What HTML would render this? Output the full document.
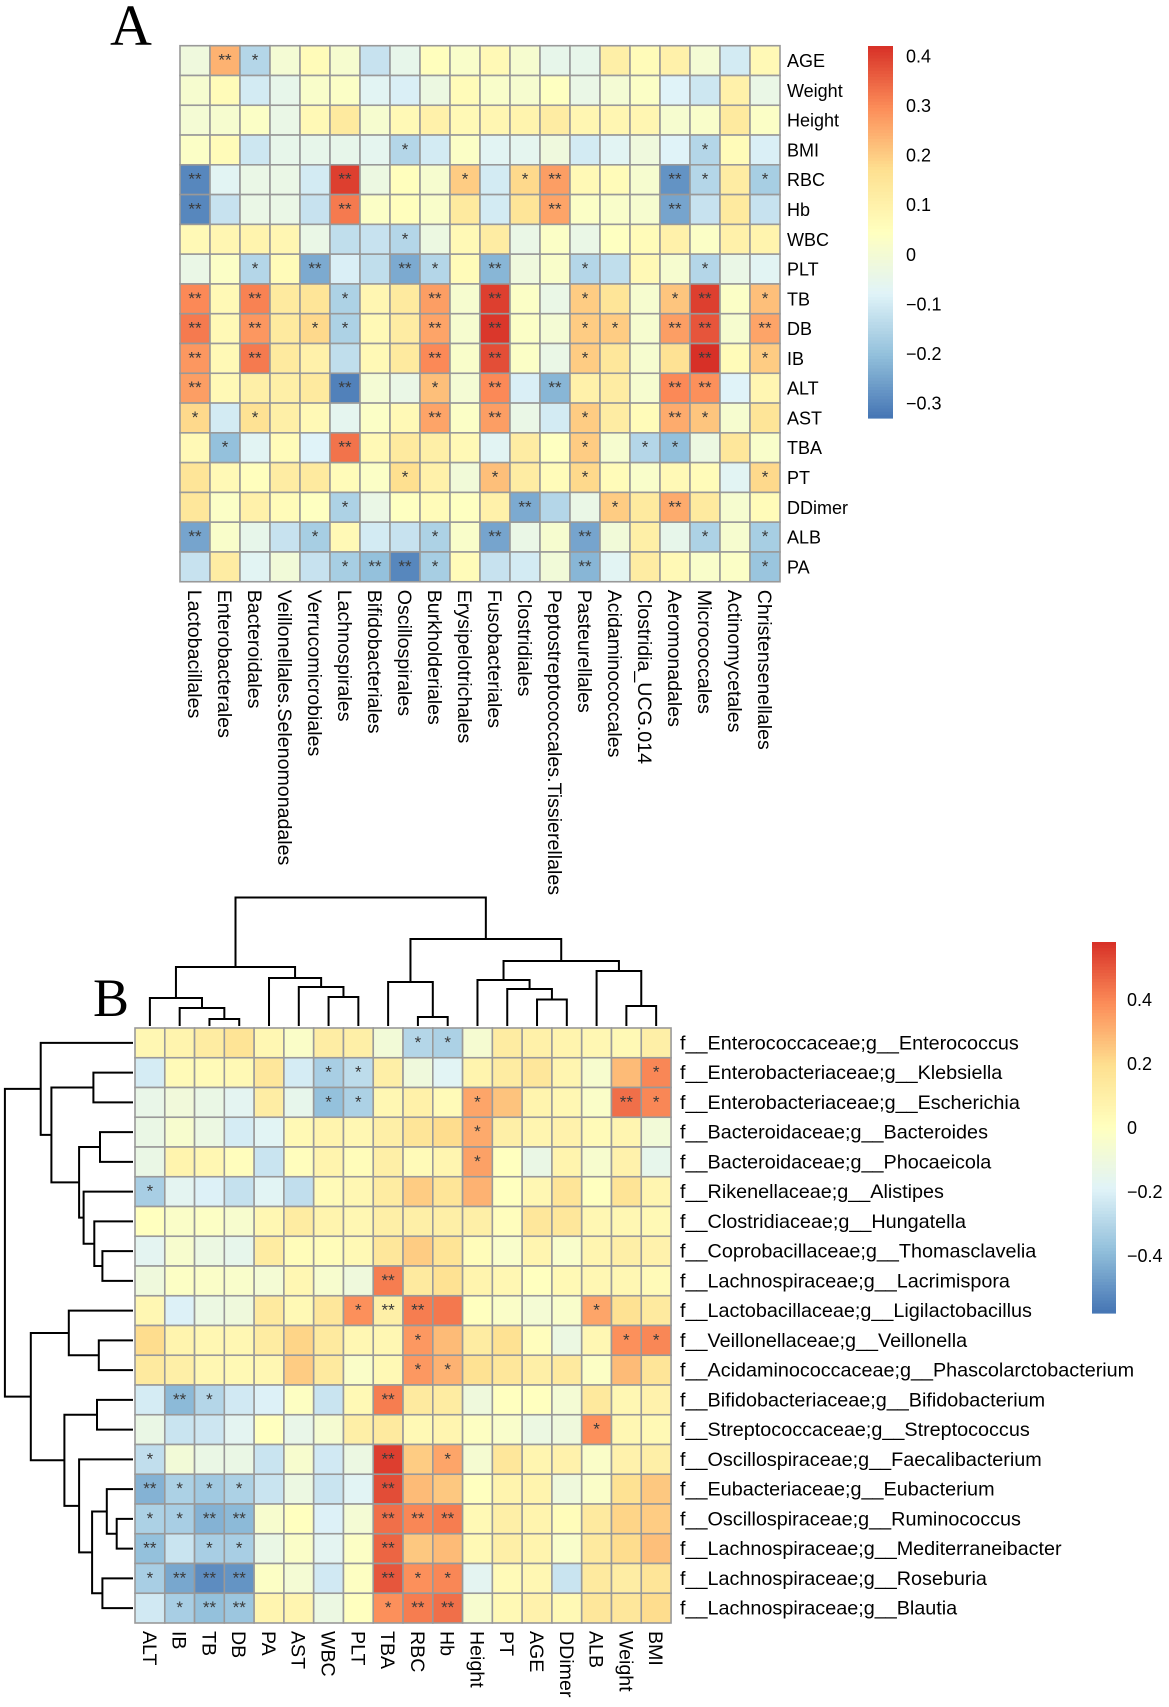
<!DOCTYPE html>
<html><head><meta charset="utf-8"><style>
html,body{margin:0;padding:0;background:#fff;}
svg{display:block;font-family:"Liberation Sans",sans-serif;}
</style></head><body>
<svg id="fig" width="1169" height="1707" viewBox="0 0 1169 1707" xmlns="http://www.w3.org/2000/svg">
<text x="110" y="45" font-family="Liberation Serif,serif" font-size="58">A</text>
<text x="93" y="1016" font-family="Liberation Serif,serif" font-size="54">B</text>
</svg>
<script>
// ---------- Panel A data ----------
const aRows = ["AGE","Weight","Height","BMI","RBC","Hb","WBC","PLT","TB","DB","IB","ALT","AST","TBA","PT","DDimer","ALB","PA"];
const aCols = ["Lactobacillales","Enterobacterales","Bacteroidales","Veillonellales.Selenomonadales","Verrucomicrobiales","Lachnospirales","Bifidobacteriales","Oscillospirales","Burkholderiales","Erysipelotrichales","Fusobacteriales","Clostridiales","Peptostreptococcales.Tissierellales","Pasteurellales","Acidaminococcales","Clostridia_UCG.014","Aeromonadales","Micrococcales","Actinomycetales","Christensenellales"];
const aValues = [
[-0.02,0.24,-0.15,0,0.06,0.01,-0.12,-0.05,0.05,0.02,0.07,0.01,-0.05,-0.05,0.11,0.06,0.1,0,-0.1,0.07],
[0.01,0.06,-0.1,-0.05,0.02,0.03,-0.07,-0.09,-0.03,0.06,0.02,0.01,0.04,-0.04,0,0.03,-0.08,-0.11,0.1,-0.04],
[0,0.01,0.03,-0.04,0.07,0.13,0.01,0.07,0.1,0.07,0.08,0.09,0.12,0.08,0.08,0.08,0.01,0.02,0.13,0.03],
[0.03,0.06,-0.11,-0.05,-0.05,-0.05,-0.06,-0.15,-0.1,0.03,-0.07,-0.06,-0.02,-0.1,-0.07,-0.02,-0.08,-0.15,0.06,-0.09],
[-0.3,-0.07,-0.04,-0.04,-0.1,0.4,-0.03,0.05,0.01,0.2,-0.1,0.18,0.27,0.07,0.06,0.01,-0.28,-0.15,0.12,-0.17],
[-0.3,-0.12,-0.04,-0.04,-0.12,0.32,0.03,0.05,0.02,0.13,-0.1,0.15,0.26,0.03,0.02,0.01,-0.25,-0.12,0.13,-0.12],
[0.07,0.08,0.09,0.08,-0.04,-0.13,-0.12,-0.15,-0.03,0.07,0.12,-0.04,0.03,-0.04,0.04,0.06,0.1,0.03,0.1,0.09],
[-0.04,0.03,-0.15,0.06,-0.24,-0.09,-0.13,-0.24,-0.15,0.06,-0.22,-0.02,0.02,-0.15,-0.13,0.07,0.01,-0.15,-0.04,-0.07],
[0.3,0.07,0.31,0.13,0.15,-0.16,0.08,0.13,0.27,0.01,0.4,0.03,-0.04,0.2,0.15,0.01,0.21,0.4,0.03,0.22],
[0.32,0.07,0.28,0.13,0.18,-0.16,0.07,0.12,0.26,0.01,0.41,0.03,0,0.2,0.2,0.01,0.27,0.37,0.01,0.26],
[0.28,0.07,0.32,0.13,0.1,-0.13,0.07,0.13,0.3,0.02,0.38,0.03,-0.04,0.2,0.14,0.01,0.16,0.42,0.06,0.2],
[0.27,0.07,0.11,0.11,0.13,-0.31,0,-0.04,0.22,0,0.3,-0.09,-0.22,0.1,0.12,0.01,0.3,0.29,-0.08,0.08],
[0.18,-0.1,0.16,0.11,0.07,-0.06,0.03,0.07,0.26,0.03,0.27,-0.04,-0.1,0.2,0.12,0.06,0.25,0.21,0.01,0.15],
[0.07,-0.2,-0.07,0.06,-0.08,0.33,0.07,0.13,0.11,0.07,-0.07,0.12,0.04,0.2,0.01,-0.15,-0.2,-0.03,0.14,0.02],
[0.15,0.07,0.05,0.12,0.13,0.06,0.03,0.17,0.1,-0.01,0.22,0.12,0.06,0.18,0.06,0.02,0.07,0.06,-0.07,0.18],
[0.14,0.03,0.1,0.06,0.04,-0.16,-0.04,0.04,0.06,0.04,0.1,-0.24,-0.15,-0.04,0.2,0.13,0.25,0.13,0.01,0.06],
[-0.25,0.02,-0.05,-0.12,-0.17,0.07,-0.1,-0.12,-0.16,0.02,-0.25,-0.04,0.01,-0.25,-0.01,0.11,-0.05,-0.16,0.01,-0.17],
[-0.12,0.12,-0.07,-0.01,-0.12,-0.17,-0.2,-0.3,-0.17,0.06,-0.12,-0.1,-0.01,-0.22,-0.07,0.12,0.07,0.02,0.03,-0.19]
];
const aSig = ["02100000000000000000","00000000000000000000","00000000000000000000","00000001000000000100",
"20000200010120002101","20000200000020002000","00000001000000000000","00102002102001000100",
"20200100202001001201","20201100202001102202","20200000202001000201","20000200102020002200",
"10100000202001002100","01000200000001011000","00000001001001000001","00000100000200102000",
"20001000102002000101","00000122100002000001"];
const aTicks = [0.4,0.3,0.2,0.1,0,-0.1,-0.2,-0.3];

// ---------- Panel B data ----------
const bRows = ["f__Enterococcaceae;g__Enterococcus","f__Enterobacteriaceae;g__Klebsiella","f__Enterobacteriaceae;g__Escherichia","f__Bacteroidaceae;g__Bacteroides","f__Bacteroidaceae;g__Phocaeicola","f__Rikenellaceae;g__Alistipes","f__Clostridiaceae;g__Hungatella","f__Coprobacillaceae;g__Thomasclavelia","f__Lachnospiraceae;g__Lacrimispora","f__Lactobacillaceae;g__Ligilactobacillus","f__Veillonellaceae;g__Veillonella","f__Acidaminococcaceae;g__Phascolarctobacterium","f__Bifidobacteriaceae;g__Bifidobacterium","f__Streptococcaceae;g__Streptococcus","f__Oscillospiraceae;g__Faecalibacterium","f__Eubacteriaceae;g__Eubacterium","f__Oscillospiraceae;g__Ruminococcus","f__Lachnospiraceae;g__Mediterraneibacter","f__Lachnospiraceae;g__Roseburia","f__Lachnospiraceae;g__Blautia"];
const bCols = ["ALT","IB","TB","DB","PA","AST","WBC","PLT","TBA","RBC","Hb","Height","PT","AGE","DDimer","ALB","Weight","BMI"];
const bValues = [
[0.05,0.07,0.12,0.17,0.05,-0.03,0.11,0.1,-0.08,-0.3,-0.32,-0.06,0.12,0.09,0.07,0.05,0.04,0.1],
[-0.22,0.03,0.03,0.04,0.15,-0.22,-0.33,-0.28,0.1,-0.1,-0.18,0.07,0.12,0.15,0.06,-0.05,0.28,0.4],
[-0.14,-0.09,-0.13,-0.17,0.11,-0.15,-0.38,-0.32,0.05,0.09,0.03,0.33,0.26,0.07,0.05,-0.03,0.45,0.4],
[-0.13,-0.05,-0.12,-0.22,-0.18,0.04,0.07,0.05,0.1,0.16,0.2,0.32,0.1,0.06,0.08,0.03,0.06,-0.08],
[-0.13,0.07,0.05,0.01,-0.25,0.01,0.07,0.02,0.1,0.03,0.06,0.34,0,-0.13,0.07,-0.05,0.08,-0.15],
[-0.33,-0.17,-0.2,-0.26,-0.18,-0.27,0.03,0.05,0.12,0.24,0.16,0.3,0,0.05,0.16,0,0.17,0.06],
[0,-0.03,-0.02,-0.05,0.05,0.12,0.07,0.05,0.1,0.1,0.1,0.1,0.01,0.15,0.15,0.05,0.05,0.04],
[-0.17,-0.05,-0.12,-0.15,0.12,0.02,0.02,0.04,0.15,0.24,0.17,0.02,-0.04,0.06,-0.04,0.06,0.1,0.08],
[-0.1,-0.02,-0.03,-0.04,-0.07,0.05,-0.05,-0.1,0.42,0.13,0.18,0.07,0.05,0,0.04,0.05,0.05,0.03],
[0.05,-0.2,-0.12,-0.1,0.13,0.04,0.15,0.38,0.1,0.42,0.43,0,-0.03,-0.07,-0.04,0.33,0.18,0.13],
[0.2,0.07,0.05,0.05,0.12,0.22,0.13,0.05,0.05,0.36,0.28,0.12,0.18,0.01,-0.12,0.05,0.38,0.4],
[0.13,0.1,0.05,0.04,0.05,0.24,0.13,-0.03,0.04,0.36,0.3,0.18,0.15,0.1,0.13,-0.02,0.28,0.16],
[-0.22,-0.4,-0.3,-0.23,-0.2,-0.01,-0.25,0.04,0.42,0.13,0.12,-0.1,0,0,-0.07,0.14,0.05,0.08],
[-0.13,-0.25,-0.24,-0.17,0,-0.14,-0.06,0.1,0.13,0.04,0.06,-0.01,-0.04,-0.12,-0.1,0.38,0.05,0.04],
[-0.27,-0.08,-0.13,-0.13,-0.25,-0.05,-0.23,-0.12,0.55,0.24,0.33,-0.06,0.15,0.06,0.08,-0.03,0.08,0.1],
[-0.42,-0.32,-0.35,-0.32,-0.25,-0.12,-0.25,-0.18,0.52,0.28,0.25,0,0.07,0.07,-0.1,-0.03,0.18,0.25],
[-0.32,-0.33,-0.42,-0.4,-0.05,0,-0.2,-0.07,0.45,0.4,0.42,0.04,0.1,0.07,0.02,0.13,0.22,0.24],
[-0.38,-0.25,-0.33,-0.33,-0.13,-0.03,-0.17,-0.02,0.47,0.25,0.28,0.04,0.1,0.07,-0.04,0.13,0.2,0.27],
[-0.33,-0.45,-0.52,-0.5,-0.02,-0.07,-0.23,-0.01,0.5,0.38,0.4,-0.17,0.03,0.05,-0.25,0.13,0.11,0.16],
[-0.23,-0.33,-0.38,-0.36,0.06,0.06,-0.12,0,0.38,0.42,0.45,-0.05,0.04,0.08,0.04,0.15,0.15,0.2]
];
const bSig = ["000000000110000000","000000110000000001","000000110001000021","000000000001000000","000000000001000000",
"100000000000000000","000000000000000000","000000000000000000","000000002000000000","000000012200000100",
"000000000100000011","000000000110000000","021000002000000000","000000000000000100","100000002010000000",
"211100002000000000","112200002220000000","201100002000000000","122200002110000000","012200001220000000"];
const bTicks = [0.4,0.2,0,-0.2,-0.4];
// dendrogram merges: [childA, childB, height]
const bColMerges = [[2,3,7],[1,18,18],[0,19,28],[6,7,29],[5,21,39],[4,22,48],[20,23,59],[9,10,9],[8,25,44],[13,14,26.5],[12,27,37],[11,28,46],[16,17,20],[15,30,55],[29,31,65],[26,32,87],[24,33,128.5]];
const bRowMerges = [[1,2,39.6],[3,4,33],[7,8,30.6],[6,22,38.7],[5,23,49.4],[21,24,53.9],[20,25,81.6],[0,26,92.3],[10,11,34.2],[9,28,64.2],[12,13,36],[16,17,16.3],[15,31,26.2],[18,19,30.6],[32,33,40.9],[14,34,53.9],[30,35,68.6],[29,36,102.2],[27,37,128.1]];

const NS="http://www.w3.org/2000/svg";
const svg=document.getElementById('fig');
function mk(tag,attrs,parent){const e=document.createElementNS(NS,tag);for(const k in attrs)e.setAttribute(k,attrs[k]);(parent||svg).appendChild(e);return e;}
const stops=["#4575B4","#91BFDB","#E0F3F8","#FFFFBF","#FEE090","#FC8D59","#D73027"];
function hex(h){return [parseInt(h.substr(1,2),16),parseInt(h.substr(3,2),16),parseInt(h.substr(5,2),16)];}
function colorFor(v,lo,hi){let t=(v-lo)/(hi-lo);t=Math.max(0,Math.min(1,t))*6;const i=Math.min(5,Math.floor(t));const f=t-i;const a=hex(stops[i]),b=hex(stops[i+1]);return "rgb("+a.map((x,k)=>Math.round(x+(b[k]-x)*f)).join(",")+")";}

function heatmap(o){
  const g=mk('g',{});
  
  
  const xS=c=>o.x0+c*o.cw, yS=r=>o.y0+r*o.ch;
  o.values.forEach((row,r)=>row.forEach((v,c)=>{
    const rc=mk('rect',{x:xS(c),y:yS(r),width:o.cw,height:o.ch,fill:colorFor(v,o.lo,o.hi),stroke:"#999",'stroke-width':1.6},g);
    
    
    const s=o.sig[r][c];
    if(s!=="0"){const t=mk('text',{x:xS(c)+o.cw/2,y:yS(r)+o.ch/2+5,'text-anchor':'middle','font-size':17,fill:"#3a3a3a"},g);t.textContent=s==="2"?"**":"*";
      
      }
  }));
  o.rows.forEach((n,r)=>{const t=mk('text',{x:o.x0+o.cols.length*o.cw+o.rlx,y:yS(r)+o.ch/2+6.5,'font-size':o.rfs,fill:"#000"});t.textContent=n;
    
    });
  const yb=o.y0+o.rows.length*o.ch+o.cly;
  o.cols.forEach((n,c)=>{const cx=xS(c)+o.cw/2;const t=mk('text',{x:cx,y:yb,'font-size':o.cfs,fill:"#000",transform:"rotate(90 "+cx+" "+yb+")",'text-anchor':'start'});t.setAttribute('dy','0.36em');t.textContent=n;
    
    });
}
function colorbar(o){
  const g=mk('g',{});
  
  
  const n=120,h=(o.y1-o.y0)/n;
  for(let i=0;i<n;i++){const v=o.hi-(i+0.5)/n*(o.hi-o.lo);mk('rect',{x:o.x,y:o.y0+i*h,width:o.w,height:h+0.6,fill:colorFor(v,o.lo,o.hi)},g);}
  const yS=v=>o.y0+(o.hi-v)/(o.hi-o.lo)*(o.y1-o.y0);
  o.ticks.forEach(v=>{const t=mk('text',{x:o.x+o.w+o.lx,y:yS(v)+6.5,'font-size':18,fill:"#000"},g);t.textContent=(v<0?"\u2212":"")+Math.abs(v);
    
    });
}
heatmap({name:'panel-a-heatmap',rows:aRows,cols:aCols,values:aValues,sig:aSig,x0:180,y0:45.7,cw:30,ch:29.78,lo:-0.33,hi:0.42,rlx:7,cly:8,rfs:18,cfs:19.6});
colorbar({name:'panel-a-colorbar',x:868,w:25,y0:46,y1:418,lo:-0.33,hi:0.42,ticks:aTicks,lx:13});
heatmap({name:'panel-b-heatmap',rows:bRows,cols:bCols,values:bValues,sig:bSig,x0:135,y0:1028,cw:29.78,ch:29.75,lo:-0.58,hi:0.58,rlx:9,cly:8,rfs:19.8,cfs:19.6});
colorbar({name:'panel-b-colorbar',x:1092,w:24,y0:942,y1:1313,lo:-0.58,hi:0.58,ticks:bTicks,lx:11});

// dendrograms
function dendro(merges,nLeaves,leafPos,base,dir,name){
  const g=mk('g',{stroke:"#000",'stroke-width':2,fill:"none"});
  
  
  const pos=[],ht=[];
  for(let i=0;i<nLeaves;i++){pos.push(leafPos(i));ht.push(0);}
  merges.forEach(m=>{const [a,b,h]=m;const pa=pos[a],pb=pos[b];
    const la=base-dir*ht[a],lb=base-dir*ht[b],lm=base-dir*h;
    let d;
    if(name==='column-dendrogram') d="M"+pa+" "+la+"V"+lm+"H"+pb+"V"+lb;
    else d="M"+la+" "+pa+"H"+lm+"V"+pb+"H"+lb;
    mk('path',{d:d},g);
    pos.push((pa+pb)/2);ht.push(h);});
}
dendro(bColMerges,18,i=>135+29.78*(i+0.5),1026,1,'column-dendrogram');
dendro(bRowMerges,20,i=>1028+29.75*(i+0.5),133,1,'row-dendrogram');
</script>
</body></html>
